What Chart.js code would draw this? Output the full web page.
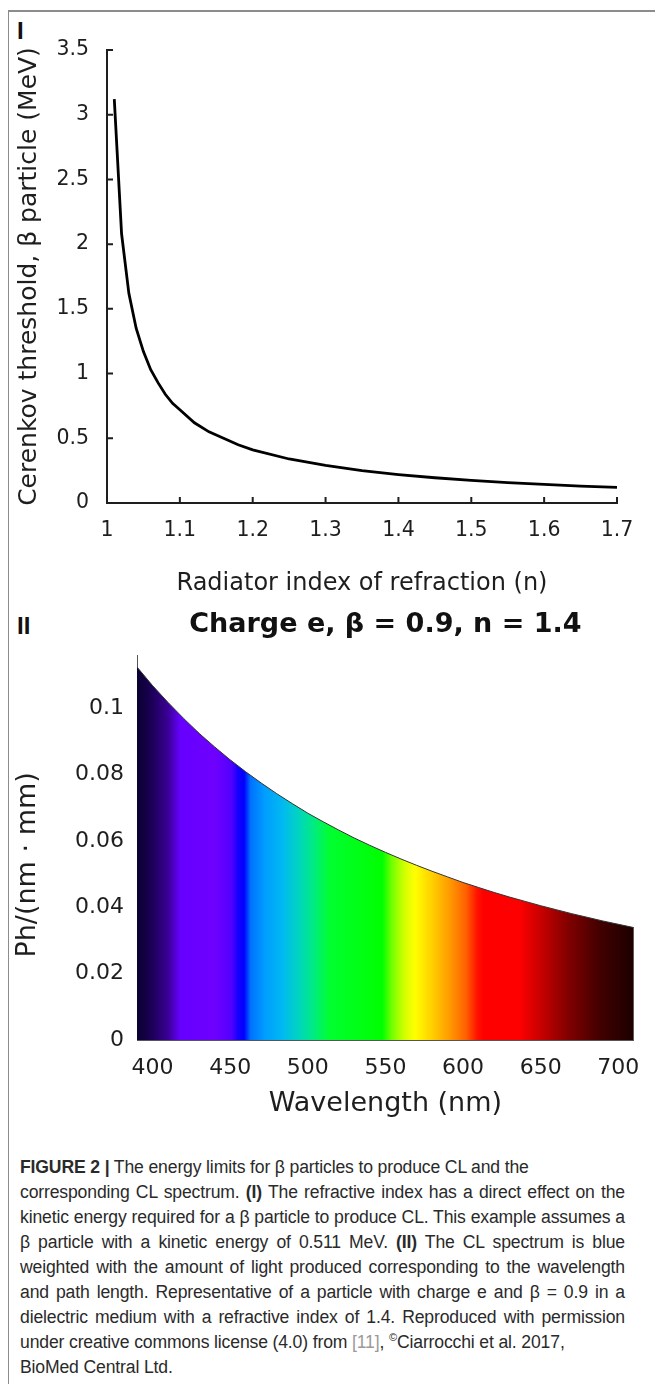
<!DOCTYPE html>
<html>
<head>
<meta charset="utf-8">
<script src="https://cdn.jsdelivr.net/npm/chart.js@4.4.1/dist/chart.umd.min.js"></script>
<style>
  body { margin: 0; background: #fff; width: 655px; height: 1384px; position: relative; overflow: hidden; }
  #frame { position: absolute; left: 8px; top: 10px; right: 0; bottom: 0; border-top: 2px solid #8c8c8c; border-left: 1px solid #8c8c8c; }
  .panel { position: absolute; font-family: "Liberation Sans", sans-serif; font-weight: bold; font-size: 24px; color: #111; }
  .wrap { position: absolute; left: 0; width: 655px; }
  #wrap1 { top: 0; height: 610px; }
  #wrap2 { top: 600px; height: 525px; }
  #caption { position: absolute; left: 20px; top: 1155px; width: 605px; font-family: "Liberation Sans", sans-serif; font-size: 17.6px; letter-spacing: -0.15px; line-height: 25px; color: #2a2a2a; }
  #caption div { white-space: nowrap; }
  #caption .j { text-align: justify; text-align-last: justify; }
  #caption .ref { color: #9a9a9a; }
  #caption sup { font-size: 11px; line-height: 0; }
</style>
</head>
<body>
<div id="frame"></div>
<div class="panel" style="left:17px;top:17px;">I</div>
<div class="panel" style="left:17px;top:612px;">II</div>
<div class="wrap" id="wrap1"><canvas id="thresholdChart"></canvas></div>
<div class="wrap" id="wrap2"><canvas id="spectrumChart"></canvas></div>
<div id="caption">
  <div><b>FIGURE 2 |</b> The energy limits for β particles to produce CL and the</div>
  <div class="j">corresponding CL spectrum. <b>(I)</b> The refractive index has a direct effect on the</div>
  <div class="j">kinetic energy required for a β particle to produce CL. This example assumes a</div>
  <div class="j">β particle with a kinetic energy of 0.511 MeV. <b>(II)</b> The CL spectrum is blue</div>
  <div class="j">weighted with the amount of light produced corresponding to the wavelength</div>
  <div class="j">and path length. Representative of a particle with charge e and β = 0.9 in a</div>
  <div class="j">dielectric medium with a refractive index of 1.4. Reproduced with permission</div>
  <div>under creative commons license (4.0) from <span class="ref">[11]</span>, <sup>©</sup>Ciarrocchi et al. 2017,</div>
  <div>BioMed Central Ltd.</div>
</div>
<script>
// panel I: Cerenkov threshold vs refractive index
const indexN = [1.01, 1.02, 1.03, 1.04, 1.05, 1.06, 1.07, 1.08, 1.09, 1.10, 1.12, 1.14, 1.16, 1.18, 1.20,
                1.25, 1.30, 1.35, 1.40, 1.45, 1.50, 1.55, 1.60, 1.65, 1.70];
const thresholdMeV = [3.12, 2.08, 1.62, 1.35, 1.17, 1.03, 0.93, 0.84, 0.77, 0.72, 0.62, 0.55, 0.50, 0.45, 0.41,
                      0.34, 0.29, 0.25, 0.22, 0.195, 0.175, 0.158, 0.144, 0.131, 0.121];
const indexTicks = [1, 1.1, 1.2, 1.3, 1.4, 1.5, 1.6, 1.7];
const thresholdTicks = [0, 0.5, 1, 1.5, 2, 2.5, 3, 3.5];

// panel II: photon yield per nm per mm
const wavelengthNm = [390, 400, 410, 420, 430, 440, 450, 460, 470, 480, 490, 500, 510, 520, 530, 540, 550,
                      560, 570, 580, 590, 600, 610, 620, 630, 640, 650, 660, 670, 680, 690, 700, 710];
const photons = [0.1125, 0.1069, 0.1018, 0.0970, 0.0925, 0.0884, 0.0845, 0.0809, 0.0775, 0.0743, 0.0713,
                 0.0684, 0.0658, 0.0633, 0.0609, 0.0587, 0.0566, 0.0546, 0.0527, 0.0509, 0.0492, 0.0475,
                 0.0460, 0.0445, 0.0431, 0.0418, 0.0405, 0.0393, 0.0381, 0.0370, 0.0359, 0.0349, 0.0339];
const wavelengthTicks = [400, 450, 500, 550, 600, 650, 700];
const photonTicks = [0, 0.02, 0.04, 0.06, 0.08, 0.1];

// colour of the fill along the wavelength axis
const spectrumStops = [
  [390, '#0a0030'], [400, '#1c0058'], [410, '#3a0096'], [418, '#6600ff'], [440, '#6e00ff'],
  [451, '#5200ff'], [455, '#1400ff'], [459, '#0000ff'], [463, '#0070ff'], [472, '#009cff'],
  [484, '#00baf0'], [494, '#00d4c0'], [504, '#00ec80'], [514, '#00ff30'], [548, '#00ff00'],
  [554, '#70ff00'], [562, '#d0ff00'], [569, '#ffff00'], [580, '#ffd000'], [591, '#ff9c00'],
  [602, '#ff6000'], [609, '#ff1400'], [613, '#ff0000'], [636, '#ff0000'], [652, '#c00000'],
  [668, '#800000'], [688, '#420000'], [710, '#1c0000']
];

const FONT = 'DejaVu Sans';
const INK = '#1e1e1e';

const innerTicks = {
  id: 'innerTicks',
  afterDatasetsDraw(chart) {
    const { ctx, chartArea: a, scales: { x, y } } = chart;
    ctx.save();
    ctx.strokeStyle = INK;
    ctx.lineWidth = 2;
    ctx.beginPath();
    x.ticks.forEach(t => {
      const px = x.getPixelForValue(t.value);
      ctx.moveTo(px, a.bottom);
      ctx.lineTo(px, a.bottom - 6);
    });
    y.ticks.forEach(t => {
      const py = y.getPixelForValue(t.value);
      ctx.moveTo(a.left, py);
      ctx.lineTo(a.left + 6, py);
    });
    ctx.stroke();
    ctx.restore();
  }
};

new Chart(document.getElementById('thresholdChart'), {
  type: 'line',
  data: {
    datasets: [{
      data: indexN.map((n, i) => ({ x: n, y: thresholdMeV[i] })),
      borderColor: '#000',
      borderWidth: 2.8,
      pointRadius: 0,
      tension: 0
    }]
  },
  options: {
    responsive: true,
    maintainAspectRatio: false,
    animation: false,
    layout: { padding: { left: 0, right: 38, top: 50, bottom: 12 } },
    plugins: { legend: { display: false }, tooltip: { enabled: false } },
    scales: {
      x: {
        type: 'linear', min: 1, max: 1.7,
        afterBuildTicks: s => { s.ticks = indexTicks.map(v => ({ value: v })); },
        afterFit: s => { s.height = 95; },
        grid: { display: false, drawTicks: false },
        border: { display: true, color: INK, width: 2 },
        ticks: { padding: 15, color: INK, font: { family: FONT, size: 20.5 }, callback: v => String(v) },
        title: { display: true, text: 'Radiator index of refraction (n)', color: INK,
                 font: { family: FONT, size: 24 }, padding: { top: 0, bottom: 0 } }
      },
      y: {
        type: 'linear', min: 0, max: 3.5,
        afterBuildTicks: s => { s.ticks = thresholdTicks.map(v => ({ value: v })); },
        afterFit: s => { s.width = 107; },
        grid: { display: false, drawTicks: false },
        border: { display: true, color: INK, width: 2 },
        ticks: { padding: 18, color: INK, font: { family: FONT, size: 20.5 }, callback: v => String(v) },
        title: { display: true, text: 'Cerenkov threshold, β particle (MeV)', color: INK,
                 font: { family: FONT, size: 25 }, padding: { top: 14, bottom: 0 } }
      }
    }
  },
  plugins: [innerTicks]
});

function spectrumFill(context) {
  const chart = context.chart;
  if (!chart.chartArea) return null;
  const xs = chart.scales.x;
  const lo = spectrumStops[0][0];
  const hi = spectrumStops[spectrumStops.length - 1][0];
  const g = chart.ctx.createLinearGradient(xs.getPixelForValue(lo), 0, xs.getPixelForValue(hi), 0);
  spectrumStops.forEach(([nm, col]) => g.addColorStop((nm - lo) / (hi - lo), col));
  return g;
}

new Chart(document.getElementById('spectrumChart'), {
  type: 'line',
  data: {
    datasets: [{
      data: wavelengthNm.map((w, i) => ({ x: w, y: photons[i] })),
      borderColor: '#333',
      borderWidth: 1,
      backgroundColor: spectrumFill,
      fill: 'origin',
      pointRadius: 0,
      tension: 0
    }]
  },
  options: {
    responsive: true,
    maintainAspectRatio: false,
    animation: false,
    layout: { padding: { left: 0, right: 14, top: 0, bottom: 5 } },
    plugins: {
      legend: { display: false },
      tooltip: { enabled: false },
      title: {
        display: true,
        fullSize: false,
        text: 'Charge e, β = 0.9, n = 1.4',
        color: '#111',
        font: { family: FONT, size: 27, weight: 'bold' },
        padding: { top: 9, bottom: 14 }
      }
    },
    scales: {
      x: {
        type: 'linear', min: 390, max: 710,
        afterBuildTicks: s => { s.ticks = wavelengthTicks.map(v => ({ value: v })); },
        afterFit: s => { s.height = 80; },
        grid: { display: false, drawTicks: false },
        border: { display: true, color: '#555', width: 1 },
        ticks: { padding: 15, color: INK, font: { family: FONT, size: 22 }, callback: v => String(v) },
        title: { display: true, text: 'Wavelength (nm)', color: INK,
                 font: { family: FONT, size: 27 }, padding: { top: 0, bottom: 0 } }
      },
      y: {
        type: 'linear', min: 0, max: 0.116,
        afterBuildTicks: s => { s.ticks = photonTicks.map(v => ({ value: v })); },
        afterFit: s => { s.width = 137; },
        grid: { display: false, drawTicks: false },
        border: { display: true, color: '#555', width: 1 },
        ticks: { padding: 13, color: INK, font: { family: FONT, size: 22 }, callback: v => String(v) },
        // trailing spaces nudge the rotated label a little lower, as in the original
        title: { display: true, text: 'Ph/(nm · mm)    ', color: INK,
                 font: { family: FONT, size: 27 }, padding: { top: 12, bottom: 0 } }
      }
    }
  }
});
</script>
</body>
</html>
